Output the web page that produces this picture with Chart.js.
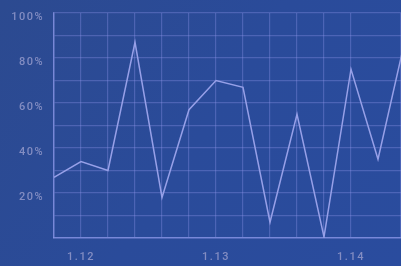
<!DOCTYPE html>
<html>
<head>
<meta charset="utf-8">
<script src="https://cdn.jsdelivr.net/npm/chart.js@4"></script>
<style>
	html, body { margin: 0; padding: 0; background: #2a4b98; overflow: hidden; }
	canvas { display: block; }
</style>
</head>
<body>
<canvas id="chart" width="401" height="266"></canvas>
<script>
// values, one per step of the x axis
var steps = [0, 1, 2, 3, 4, 5, 6, 7, 8, 9, 10, 11, 12, 13];
var shares = [27, 34, 30, 87, 18, 57, 70, 67, 7, 55, 0.5, 75, 35, 88];
var dayLabels = { 1: "1.12", 6: "1.13", 11: "1.14" };
var yTickLabels = [20, 40, 60, 80, 100];

var points = steps.map(function(s, i){
	return { x: s, y: shares[i] };
});

// background fill + letter spacing for the tick text
var backdrop = {
	id: "backdrop",
	beforeDraw: function(chart){
		var ctx = chart.ctx;
		var g = ctx.createLinearGradient(0, 0, chart.width, chart.height);
		g.addColorStop(0, "#2c4a90");
		g.addColorStop(0.5, "#2a4b9a");
		g.addColorStop(1, "#2a4c9e");
		ctx.save();
		ctx.fillStyle = g;
		ctx.fillRect(0, 0, chart.width, chart.height);
		ctx.restore();
		ctx.letterSpacing = "1.5px";
	}
};

function noPadding(scale){
	scale.paddingLeft = 0;
	scale.paddingRight = 0;
	scale.paddingTop = 0;
	scale.paddingBottom = 0;
}

var tickFont = { family: "Roboto", size: 11, weight: "500" };

new Chart(document.getElementById("chart"), {
	type: "line",
	data: {
		datasets: [{
			data: points,
			borderColor: "#97a0e8",
			borderWidth: 1.5,
			pointRadius: 0,
			tension: 0,
			fill: false
		}]
	},
	options: {
		responsive: false,
		animation: false,
		devicePixelRatio: 1,
		layout: { padding: { top: 13, right: 0, left: 0, bottom: 0 } },
		plugins: {
			legend: { display: false },
			tooltip: { enabled: false }
		},
		scales: {
			x: {
				type: "linear",
				min: 0,
				max: (401 - 54) / 27,
				afterFit: function(scale){ scale.height = 28; noPadding(scale); },
				grid: {
					color: "rgba(145, 150, 235, 0.34)",
					lineWidth: 1.2,
					drawTicks: false
				},
				border: { color: "rgba(150, 160, 240, 0.6)", width: 1.5 },
				ticks: {
					stepSize: 1,
					autoSkip: false,
					maxRotation: 0,
					padding: 13,
					color: "#838dc2",
					font: tickFont,
					callback: function(v){ return dayLabels[v] || ""; }
				}
			},
			y: {
				min: 0,
				max: 100,
				afterFit: function(scale){ scale.width = 54; noPadding(scale); },
				grid: {
					color: "rgba(145, 150, 235, 0.34)",
					lineWidth: 1.2,
					drawTicks: false
				},
				border: { color: "rgba(150, 160, 240, 0.6)", width: 1.5 },
				ticks: {
					stepSize: 10,
					padding: 10,
					labelOffset: 4,
					color: "#838dc2",
					font: tickFont,
					callback: function(v){
						return yTickLabels.indexOf(v) >= 0 ? v + "%" : "";
					}
				}
			}
		}
	},
	plugins: [backdrop]
});
</script>
</body>
</html>
